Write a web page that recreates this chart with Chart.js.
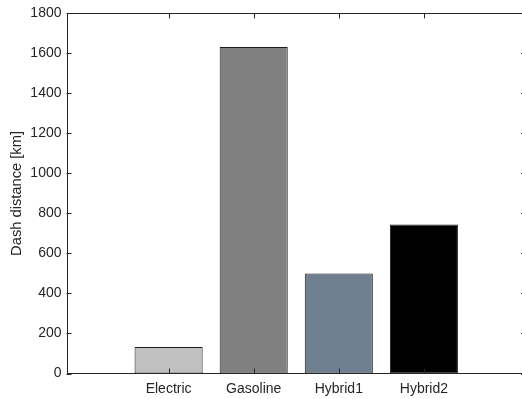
<!DOCTYPE html>
<html>
<head>
<meta charset="utf-8">
<script src="https://cdn.jsdelivr.net/npm/chart.js@4/dist/chart.umd.min.js"></script>
<style>
html,body{margin:0;padding:0;background:#fff;overflow:hidden;width:522px;height:399px;}
#wrap{width:540px;height:399px;position:relative;}
#c{display:block;width:540px;height:399px;}
</style>
</head>
<body>
<div id="wrap"><canvas id="c" width="540" height="399"></canvas></div>
<script>
const categories = ['Electric', 'Gasoline', 'Hybrid1', 'Hybrid2'];
const positions = [1, 2, 3, 4];
const distances = [132, 1632, 500, 745];
const barColors = ['#c0c0c0', '#808080', '#708090', '#000000'];
const yTicks = [0, 200, 400, 600, 800, 1000, 1200, 1400, 1600, 1800];

const axisColor = '#262626';
const fontFamily = '"Liberation Sans", Arial, Helvetica, sans-serif';

const innerTicks = {
  id: 'innerTicks',
  afterDraw(chart) {
    const {ctx, chartArea: a, scales} = chart;
    ctx.save();
    ctx.strokeStyle = axisColor;
    ctx.lineWidth = 1;
    const L = 5;
    ctx.beginPath();
    scales.y.ticks.forEach(t => {
      const py = Math.round(scales.y.getPixelForValue(t.value)) + 0.5;
      ctx.moveTo(a.left, py); ctx.lineTo(a.left + L, py);
      ctx.moveTo(a.right, py); ctx.lineTo(a.right - L, py);
    });
    scales.x.ticks.forEach(t => {
      const px = Math.round(scales.x.getPixelForValue(t.value)) + 0.5;
      ctx.moveTo(px, a.bottom); ctx.lineTo(px, a.bottom - L);
      ctx.moveTo(px, a.top); ctx.lineTo(px, a.top + L);
    });
    ctx.stroke();
    ctx.strokeRect(Math.round(a.left) + 0.5, Math.round(a.top) + 0.5,
                   Math.round(a.right - a.left), Math.round(a.bottom - a.top));
    ctx.restore();
  }
};

new Chart(document.getElementById('c'), {
  type: 'bar',
  data: {
    datasets: [{
      data: positions.map((p, i) => ({x: p, y: distances[i]})),
      backgroundColor: barColors,
      borderColor: '#1a1a1a',
      borderWidth: 1,
      borderSkipped: false,
      barPercentage: 0.8,
      categoryPercentage: 1.0
    }]
  },
  options: {
    responsive: false,
    animation: false,
    plugins: {legend: {display: false}, tooltip: {enabled: false}},
    layout: {padding: {top: 12, right: 14, left: 0, bottom: 0}},
    scales: {
      x: {
        type: 'linear',
        min: -0.2,
        max: 5.2,
        offset: false,
        grid: {display: false, drawTicks: false},
        border: {display: false},
        afterBuildTicks: s => { s.ticks = positions.map(v => ({value: v})); },
        ticks: {
          autoSkip: false,
          maxRotation: 0,
          padding: 7,
          color: axisColor,
          font: {family: fontFamily, size: 14},
          callback: (v) => categories[positions.indexOf(v)] ?? ''
        },
        afterFit: s => { s.height = 25.5; }
      },
      y: {
        min: 0,
        max: 1800,
        grid: {display: false, drawTicks: false},
        border: {display: false},
        afterBuildTicks: s => { s.ticks = yTicks.map(v => ({value: v})); },
        ticks: {
          padding: 5,
          color: axisColor,
          font: {family: fontFamily, size: 14},
          callback: v => String(v)
        },
        title: {
          display: true,
          text: 'Dash distance [km]',
          color: axisColor,
          font: {family: fontFamily, size: 14.7},
          padding: {top: 8, bottom: 6}
        },
        afterFit: s => { s.width = 66.5; }
      }
    }
  },
  plugins: [innerTicks]
});
</script>
</body>
</html>
